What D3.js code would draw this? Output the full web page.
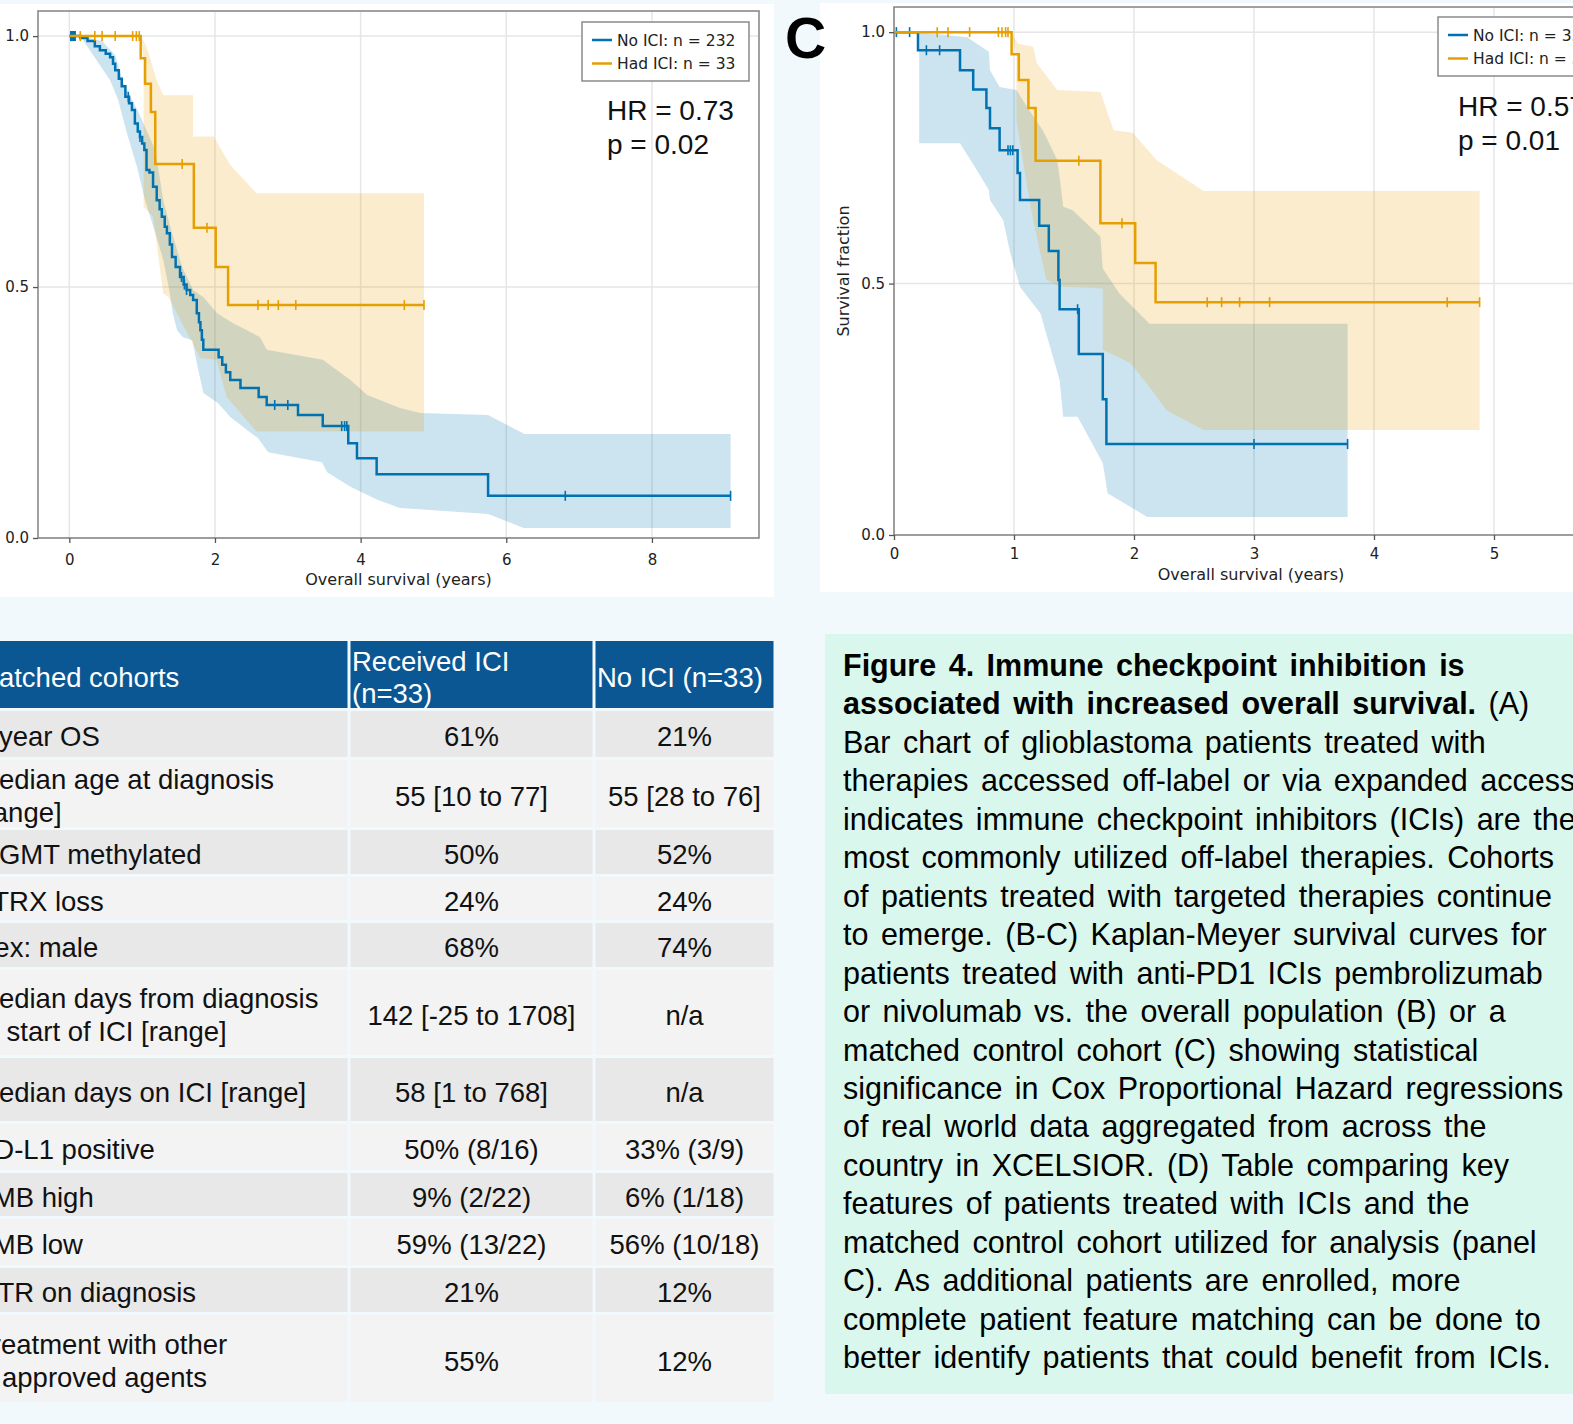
<!DOCTYPE html>
<html>
<head>
<meta charset="utf-8">
<script src="https://cdn.jsdelivr.net/npm/d3@7"></script>
<style>
  body { margin: 0; background: #f1f9fc; overflow: hidden; }
  svg { display: block; }
</style>
</head>
<body>
<svg id="fig" width="1573" height="1424"></svg>
<script>
// ---- panel B: ICI vs overall population (years, survival fraction) ----
let blueB = [[0, 1.0], [0.15, 0.996], [0.25, 0.99], [0.35, 0.98], [0.42, 0.972], [0.5, 0.965], [0.56, 0.958],
  [0.6, 0.945], [0.63, 0.932], [0.68, 0.915], [0.72, 0.9], [0.77, 0.879], [0.82, 0.866], [0.86, 0.853],
  [0.9, 0.826], [0.94, 0.81], [0.97, 0.799], [1.0, 0.786], [1.03, 0.773], [1.06, 0.733], [1.1, 0.728],
  [1.15, 0.7], [1.2, 0.673], [1.24, 0.655], [1.27, 0.64], [1.31, 0.62], [1.34, 0.607], [1.38, 0.585],
  [1.41, 0.56], [1.46, 0.54], [1.52, 0.52], [1.57, 0.505], [1.61, 0.494], [1.66, 0.484], [1.7, 0.474],
  [1.75, 0.448], [1.78, 0.43], [1.8, 0.414], [1.82, 0.395], [1.84, 0.375], [2.05, 0.36], [2.1, 0.345],
  [2.15, 0.33], [2.21, 0.315], [2.35, 0.299], [2.6, 0.281], [2.71, 0.265], [3.14, 0.245], [3.48, 0.223],
  [3.83, 0.189], [3.95, 0.159], [4.22, 0.127], [5.75, 0.084]]
let blueBEnd = 9.08
let blueBCensor = [0.02, 0.03, 0.04, 0.05, 0.06, 0.07, 0.08, 0.81, 0.97, 1.54, 1.58, 1.61, 2.82, 3.0, 3.74, 3.78, 3.81, 6.81, 9.08]
let blueBHi = [[0.15, 1.0], [0.45, 0.99], [0.63, 0.962], [0.74, 0.908], [0.97, 0.842], [1.18, 0.773], [1.29, 0.673],
  [1.41, 0.608], [1.55, 0.54], [1.7, 0.494], [1.84, 0.48], [2.03, 0.448], [2.25, 0.428], [2.44, 0.414],
  [2.62, 0.4], [2.71, 0.375], [3.48, 0.355], [3.86, 0.315], [4.09, 0.285], [4.54, 0.259], [4.82, 0.249],
  [5.75, 0.245], [6.25, 0.207], [9.08, 0.207]]
let blueBLo = [[0.15, 1.0], [0.56, 0.912], [0.67, 0.873], [0.79, 0.807], [0.93, 0.739], [1.04, 0.673], [1.18, 0.608],
  [1.29, 0.554], [1.38, 0.488], [1.42, 0.448], [1.48, 0.414], [1.56, 0.4], [1.69, 0.394], [1.75, 0.349],
  [1.84, 0.289], [2.04, 0.269], [2.21, 0.241], [2.44, 0.215], [2.59, 0.199], [2.73, 0.171], [3.47, 0.151],
  [3.54, 0.131], [3.86, 0.102], [4.23, 0.076], [4.54, 0.06], [5.75, 0.048], [6.24, 0.02], [9.08, 0.02]]

let orangeB = [[0, 1.0], [0.98, 0.956], [1.04, 0.905], [1.12, 0.849], [1.18, 0.745], [1.71, 0.618], [2.01, 0.54], [2.18, 0.464]]
let orangeBEnd = 4.87
let orangeBCensor = [0.15, 0.35, 0.45, 0.63, 0.87, 0.92, 0.96, 1.55, 1.89, 2.59, 2.73, 2.87, 3.11, 4.6, 4.87]
let orangeBHi = [[0.98, 1.0], [1.06, 0.979], [1.2, 0.912], [1.29, 0.882], [1.7, 0.882], [1.7, 0.8], [1.98, 0.8],
  [2.21, 0.743], [2.57, 0.687], [4.87, 0.687]]
let orangeBLo = [[0.98, 1.0], [1.02, 0.95], [1.02, 0.66], [1.15, 0.64], [1.29, 0.487], [1.36, 0.48], [1.8, 0.358],
  [2.02, 0.355], [2.16, 0.281], [2.57, 0.212], [4.87, 0.212]]

// ---- panel C: ICI vs matched control cohort ----
let blueC = [[0, 1.0], [0.2, 0.964], [0.55, 0.924], [0.66, 0.886], [0.77, 0.849], [0.8, 0.809], [0.88, 0.765],
  [1.03, 0.72], [1.05, 0.666], [1.21, 0.615], [1.29, 0.565], [1.37, 0.507], [1.38, 0.449], [1.54, 0.36],
  [1.74, 0.27], [1.77, 0.181]]
let blueCEnd = 3.78
let blueCCensor = [0.02, 0.13, 0.27, 0.38, 0.95, 0.97, 0.99, 1.53, 3.0, 3.78]
let blueCHi = [[0.21, 1.0], [0.61, 0.99], [0.79, 0.961], [0.8, 0.924], [0.88, 0.891], [1.02, 0.885], [1.11, 0.851],
  [1.24, 0.805], [1.36, 0.746], [1.38, 0.712], [1.41, 0.653], [1.49, 0.646], [1.72, 0.593], [1.74, 0.53],
  [1.88, 0.48], [2.13, 0.42], [3.78, 0.42]]
let blueCLo = [[0.21, 0.779], [0.55, 0.779], [0.69, 0.726], [0.79, 0.686], [0.8, 0.666], [0.91, 0.626], [0.97, 0.56],
  [1.05, 0.493], [1.22, 0.441], [1.38, 0.308], [1.41, 0.235], [1.53, 0.235], [1.74, 0.143], [1.78, 0.083],
  [2.11, 0.036], [3.78, 0.036]]

let orangeC = [[0, 1.0], [0.98, 0.956], [1.04, 0.905], [1.12, 0.849], [1.18, 0.744], [1.72, 0.62], [2.01, 0.541], [2.18, 0.463]]
let orangeCEnd = 4.88
let orangeCCensor = [0.36, 0.45, 0.63, 0.87, 0.9, 0.93, 0.95, 1.54, 1.9, 2.61, 2.73, 2.88, 3.13, 4.61, 4.88]
let orangeCHi = [[0.98, 1.0], [1.03, 0.977], [1.16, 0.971], [1.19, 0.938], [1.36, 0.885], [1.72, 0.881], [1.83, 0.805],
  [1.99, 0.8], [2.19, 0.745], [2.58, 0.684], [4.88, 0.684]]
let orangeCLo = [[0.98, 1.0], [1.02, 0.95], [1.02, 0.825], [1.11, 0.692], [1.16, 0.626], [1.22, 0.56], [1.27, 0.507],
  [1.38, 0.494], [1.74, 0.49], [1.74, 0.368], [1.97, 0.342], [2.13, 0.294], [2.27, 0.248], [2.58, 0.209], [4.88, 0.209]]

// ---- panel D: table ----
let tableHeaders = ['Matched cohorts', 'Received ICI\n(n=33)', 'No ICI (n=33)']
let rowLabels = ['1 year OS', 'Median age at diagnosis\n[range]', 'MGMT methylated', 'ATRX loss', 'Sex: male',
  'Median days from diagnosis\nto start of ICI [range]', 'Median days on ICI [range]', 'PD-L1 positive',
  'TMB high', 'TMB low', 'GTR on diagnosis', 'Treatment with other\napproved agents']
let receivedICI = ['61%', '55 [10 to 77]', '50%', '24%', '68%', '142 [-25 to 1708]', '58 [1 to 768]',
  '50% (8/16)', '9% (2/22)', '59% (13/22)', '21%', '55%']
let noICI = ['21%', '55 [28 to 76]', '52%', '24%', '74%', 'n/a', 'n/a', '33% (3/9)', '6% (1/18)',
  '56% (10/18)', '12%', '12%']

// ---- caption: [bold part, regular part] per line ----
let captionLines = [
  ['Figure 4. Immune checkpoint inhibition is', ''],
  ['associated with increased overall survival.', ' (A)'],
  ['', 'Bar chart of glioblastoma patients treated with'],
  ['', 'therapies accessed off-label or via expanded access'],
  ['', 'indicates immune checkpoint inhibitors (ICIs) are the'],
  ['', 'most commonly utilized off-label therapies. Cohorts'],
  ['', 'of patients treated with targeted therapies continue'],
  ['', 'to emerge. (B-C) Kaplan-Meyer survival curves for'],
  ['', 'patients treated with anti-PD1 ICIs pembrolizumab'],
  ['', 'or nivolumab vs. the overall population (B) or a'],
  ['', 'matched control cohort (C) showing statistical'],
  ['', 'significance in Cox Proportional Hazard regressions'],
  ['', 'of real world data aggregated from across the'],
  ['', 'country in XCELSIOR. (D) Table comparing key'],
  ['', 'features of patients treated with ICIs and the'],
  ['', 'matched control cohort utilized for analysis (panel'],
  ['', 'C). As additional patients are enrolled, more'],
  ['', 'complete patient feature matching can be done to'],
  ['', 'better identify patients that could benefit from ICIs.']
]

let blue = '#0072b2', orange = '#e69f00'
let plotFont = '"DejaVu Sans", sans-serif'
let textFont = '"Liberation Sans", Arial, sans-serif'

let svg = d3.select('#fig')
svg.append('rect').attr('width', 1573).attr('height', 1424).attr('fill', '#f1f9fc')

// white panels behind the two plots
svg.append('rect').attr('x', 0).attr('y', 4).attr('width', 774).attr('height', 593).attr('fill', '#fff')
svg.append('rect').attr('x', 820).attr('y', 3).attr('width', 760).attr('height', 589).attr('fill', '#fff')

function survAt(curve, t) {
  let s = curve[0][1]
  curve.forEach(p => { if (p[0] <= t) s = p[1] })
  return s
}

function drawKM(o) {
  let x = d3.scaleLinear().domain(o.xDomain).range(o.xRange)
  let y = d3.scaleLinear().domain([0, 1.05]).range(o.yRange)
  let g = svg.append('g')
  let left = o.xRange[0], right = o.xRange[1], top = o.yRange[1], bottom = o.yRange[0]

  let clipId = 'clip-' + o.id
  g.append('clipPath').attr('id', clipId).append('rect')
    .attr('x', left).attr('y', top).attr('width', right - left).attr('height', bottom - top)

  // grid
  g.append('g').selectAll('line').data(o.xTicks).enter().append('line')
    .attr('x1', d => x(d)).attr('x2', d => x(d)).attr('y1', top).attr('y2', bottom)
    .attr('stroke', '#e6e6e6').attr('stroke-width', 1.5)
  g.append('g').selectAll('line').data([0, 0.5, 1]).enter().append('line')
    .attr('x1', left).attr('x2', right).attr('y1', d => y(d)).attr('y2', d => y(d))
    .attr('stroke', '#e6e6e6').attr('stroke-width', 1.5)

  let plot = g.append('g').attr('clip-path', 'url(#' + clipId + ')')
  let line = d3.line().x(d => x(d[0])).y(d => y(d[1]))
  let step = d3.line().x(d => x(d[0])).y(d => y(d[1])).curve(d3.curveStepAfter)

  o.series.forEach(sr => {
    plot.append('path')
      .attr('d', line(sr.hi.concat(sr.lo.slice().reverse())) + 'Z')
      .attr('fill', sr.color).attr('fill-opacity', 0.2)
  })
  o.series.forEach(sr => {
    let pts = sr.curve.concat([[sr.end, sr.curve[sr.curve.length - 1][1]]])
    plot.append('path').attr('d', step(pts))
      .attr('fill', 'none').attr('stroke', sr.color).attr('stroke-width', 2.5)
    plot.append('g').selectAll('line').data(sr.censor).enter().append('line')
      .attr('x1', d => x(d)).attr('x2', d => x(d))
      .attr('y1', d => y(survAt(sr.curve, d)) - 5).attr('y2', d => y(survAt(sr.curve, d)) + 5)
      .attr('stroke', sr.color).attr('stroke-width', 1.6)
  })

  // frame
  g.append('rect').attr('x', left).attr('y', top).attr('width', right - left).attr('height', bottom - top)
    .attr('fill', 'none').attr('stroke', '#8a8a8a').attr('stroke-width', 1.6)

  let xAxis = g.append('g').attr('transform', 'translate(0,' + bottom + ')')
    .call(d3.axisBottom(x).tickValues(o.xTicks).tickFormat(d3.format('d')).tickSize(5).tickPadding(o.xPad))
  let yAxis = g.append('g').attr('transform', 'translate(' + left + ',0)')
    .call(d3.axisLeft(y).tickValues([0, 0.5, 1]).tickFormat(d3.format('.1f')).tickSize(5).tickPadding(4))
  ;[xAxis, yAxis].forEach(a => {
    a.select('.domain').remove()
    a.selectAll('.tick line').attr('stroke', '#555').attr('stroke-width', 1.3)
    a.selectAll('.tick text').attr('font-family', plotFont).attr('font-size', 15).attr('fill', '#222')
  })

  g.append('text').attr('x', (left + right) / 2).attr('y', o.titleY)
    .attr('text-anchor', 'middle').attr('font-family', plotFont).attr('font-size', 16).attr('fill', '#222')
    .text('Overall survival (years)')
  if (o.yLabel) {
    g.append('text').attr('transform', 'translate(' + o.yLabelX + ',' + (top + bottom) / 2 + ') rotate(-90)')
      .attr('text-anchor', 'middle').attr('font-family', plotFont).attr('font-size', 16).attr('fill', '#222')
      .text('Survival fraction')
  }

  // legend
  let lg = o.legend
  g.append('rect').attr('x', lg.x).attr('y', lg.y).attr('width', lg.w).attr('height', 59)
    .attr('fill', '#fff').attr('stroke', '#8a8a8a').attr('stroke-width', 1.5)
  o.series.forEach((sr, i) => {
    let ly = lg.y + 18 + i * 23.5
    g.append('line').attr('x1', lg.x + 10).attr('x2', lg.x + 30).attr('y1', ly).attr('y2', ly)
      .attr('stroke', sr.color).attr('stroke-width', 2.5)
    g.append('text').attr('x', lg.x + 35).attr('y', ly + 5.5)
      .attr('font-family', plotFont).attr('font-size', 15.5).attr('fill', '#222').text(sr.label)
  })

  g.append('text').attr('x', o.stats.x).attr('y', o.stats.y)
    .attr('font-family', textFont).attr('font-size', 28).attr('fill', '#111').text(o.stats.hr)
  g.append('text').attr('x', o.stats.x).attr('y', o.stats.y + 34)
    .attr('font-family', textFont).attr('font-size', 28).attr('fill', '#111').text(o.stats.p)
}

drawKM({
  id: 'b', xDomain: [-0.43, 9.47], xRange: [38, 759], yRange: [538, 11], xTicks: [0, 2, 4, 6, 8], xPad: 11,
  titleY: 585, yLabel: false,
  legend: { x: 582, y: 22, w: 167 },
  stats: { x: 607, y: 120, hr: 'HR = 0.73', p: 'p = 0.02' },
  series: [
    { label: 'No ICI: n = 232', color: blue, curve: blueB, end: blueBEnd, censor: blueBCensor, hi: blueBHi, lo: blueBLo },
    { label: 'Had ICI: n = 33', color: orange, curve: orangeB, end: orangeBEnd, censor: orangeBCensor, hi: orangeBHi, lo: orangeBLo }
  ]
})

drawKM({
  id: 'c', xDomain: [0, 5.95], xRange: [894, 1608], yRange: [535, 7], xTicks: [0, 1, 2, 3, 4, 5], xPad: 8,
  titleY: 580, yLabel: true, yLabelX: 849,
  legend: { x: 1438, y: 17, w: 170 },
  stats: { x: 1458, y: 116, hr: 'HR = 0.57', p: 'p = 0.01' },
  series: [
    { label: 'No ICI: n = 33', color: blue, curve: blueC, end: blueCEnd, censor: blueCCensor, hi: blueCHi, lo: blueCLo },
    { label: 'Had ICI: n = 33', color: orange, curve: orangeC, end: orangeCEnd, censor: orangeCCensor, hi: orangeCHi, lo: orangeCLo }
  ]
})

svg.append('text').attr('x', 785).attr('y', 58)
  .attr('font-family', textFont).attr('font-weight', 'bold').attr('font-size', 57).attr('fill', '#000').text('C')

// ---- table ----
let colEdges = [-30, 349, 594, 775]   // column boundaries
let rowEdges = [711, 760, 830, 877, 923, 970, 1058, 1124, 1173, 1219, 1268, 1315, 1405]
let tFont = 27.5, lineGap = 33, textX = -24
let table = svg.append('g').attr('font-family', textFont).attr('font-size', tFont)

function cellText(txt, cx, cy, anchor, color) {
  let lines = txt.split('\n')
  lines.forEach((ln, i) => {
    let indent = (anchor === 'start' && i > 0 && ln.startsWith('approved')) ? 26 : 0
    table.append('text')
      .attr('x', cx + indent)
      .attr('y', cy + (i - (lines.length - 1) / 2) * lineGap + 12)
      .attr('text-anchor', anchor).attr('fill', color).text(ln)
  })
}

tableHeaders.forEach((h, j) => {
  table.append('rect').attr('x', colEdges[j] + (j ? 1.5 : 0)).attr('y', 641)
    .attr('width', colEdges[j + 1] - colEdges[j] - (j ? 3 : 1.5)).attr('height', 67).attr('fill', '#0b5793')
  let hx = j === 0 ? textX : colEdges[j] + 3
  let lines = h.split('\n')
  lines.forEach((ln, i) => {
    table.append('text').attr('x', hx)
      .attr('y', 676 + (i - (lines.length - 1) / 2) * 32 + 11)
      .attr('fill', '#fff').text(ln)
  })
})

rowLabels.forEach((lab, i) => {
  let y0 = rowEdges[i], h = rowEdges[i + 1] - rowEdges[i] - 3
  let fill = i % 2 === 0 ? '#e8e8e8' : '#f3f3f3'
  for (let j = 0; j < 3; j++) {
    table.append('rect').attr('x', colEdges[j] + (j ? 1.5 : 0)).attr('y', y0)
      .attr('width', colEdges[j + 1] - colEdges[j] - (j ? 3 : 1.5)).attr('height', h).attr('fill', fill)
  }
  let cy = y0 + h / 2
  cellText(lab, textX, cy, 'start', '#111')
  cellText(receivedICI[i], (colEdges[1] + colEdges[2]) / 2, cy, 'middle', '#111')
  cellText(noICI[i], (colEdges[2] + colEdges[3]) / 2, cy, 'middle', '#111')
})

// ---- caption ----
svg.append('rect').attr('x', 825).attr('y', 634).attr('width', 760).attr('height', 760).attr('fill', '#d9f7ec')
let cap = svg.append('g').attr('font-family', textFont).attr('font-size', 30.5).attr('fill', '#000')
captionLines.forEach((ln, i) => {
  let t = cap.append('text').attr('x', 843).attr('y', 676 + i * 38.45).attr('word-spacing', 4)
    .attr('xml:space', 'preserve')
  if (ln[0]) t.append('tspan').attr('font-weight', 'bold').text(ln[0])
  if (ln[1]) t.append('tspan').text(ln[1])
})
</script>
</body>
</html>
